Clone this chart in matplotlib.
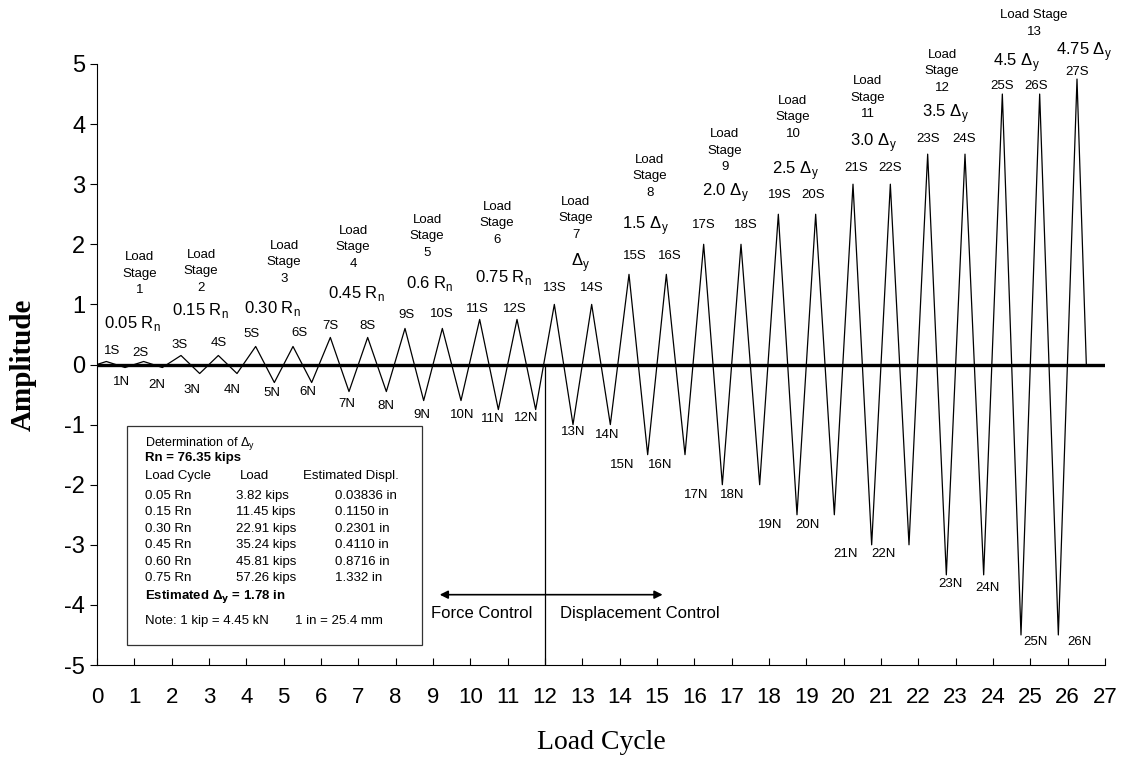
import numpy as np
import matplotlib
matplotlib.use('Agg')
import matplotlib.pyplot as plt
from matplotlib.patches import Rectangle

plt.rcParams['font.family'] = ['Liberation Sans', 'DejaVu Sans']
plt.rcParams['axes.unicode_minus'] = False

# amplitude of each load cycle (S = positive peak, N = negative peak)
cycles = list(range(1, 28))
amps = [0.05, 0.05, 0.15, 0.15, 0.30, 0.30, 0.45, 0.45, 0.6, 0.6, 0.75, 0.75,
        1.0, 1.0, 1.5, 1.5, 2.0, 2.0, 2.5, 2.5, 3.0, 3.0, 3.5, 3.5, 4.5, 4.5, 4.75]

# label offsets (pixels) of the peak labels
s_off = [(6, 10), (-3, 8), (-1, 10), (0, 12), (-4, 12), (6, 13), (0, 11), (0, 11),
         (2, 13), (-1, 14), (-2, 10), (-2, 10), (0, 16), (0, 16), (6, 18), (3, 18),
         (0, 19), (5, 19), (1, 19), (-3, 19), (3, 16), (0, 16), (0, 15), (-1, 15),
         (0, 8), (-4, 8), (0, 7)]
n_off = [(-3, -14), (-6, -17), (-8, -16), (-5, -16), (-2, -10), (-4, -9), (-2, -12), (0, -14),
         (-2, -14), (1, -14), (-6, -9), (-9, -8), (0, -7), (-3, -10), (-25, -10), (-25, -10),
         (-26, -10), (-27, -10), (-27, -10), (-27, -10), (-26, -9), (-25, -9), (4, -9), (4, -13),
         (15, -7), (21, -7)]

# load stage captions
stage_txt = ['Load\nStage\n%d' % i for i in range(1, 13)] + ['Load Stage\n13']
stage_pos = [(1.15, 1.51), (2.79, 1.55), (5.01, 1.70), (6.86, 1.95), (8.84, 2.13),
             (10.72, 2.35), (12.83, 2.43), (14.81, 3.13), (16.82, 3.56), (18.64, 4.11),
             (20.65, 4.44), (22.64, 4.88), (25.10, 5.67)]
level_txt = ['0.05 R$_\\mathregular{n}$', '0.15 R$_\\mathregular{n}$', '0.30 R$_\\mathregular{n}$',
             '0.45 R$_\\mathregular{n}$', '0.6 R$_\\mathregular{n}$', '0.75 R$_\\mathregular{n}$',
             'Δ$_\\mathregular{y}$', '1.5 Δ$_\\mathregular{y}$', '2.0 Δ$_\\mathregular{y}$',
             '2.5 Δ$_\\mathregular{y}$', '3.0 Δ$_\\mathregular{y}$', '3.5 Δ$_\\mathregular{y}$',
             '4.5 Δ$_\\mathregular{y}$', '4.75 Δ$_\\mathregular{y}$']
level_pos = [(0.94, 0.68), (2.76, 0.90), (4.69, 0.93), (6.94, 1.18), (8.92, 1.35),
             (10.88, 1.45), (12.94, 1.70), (14.68, 2.31), (16.82, 2.86), (18.70, 3.23),
             (20.79, 3.69), (22.72, 4.18), (24.64, 5.02), (26.44, 5.21)]

# table in the box
tab_cycle = ['0.05 Rn', '0.15 Rn', '0.30 Rn', '0.45 Rn', '0.60 Rn', '0.75 Rn']
tab_load = ['3.82 kips', '11.45 kips', '22.91 kips', '35.24 kips', '45.81 kips', '57.26 kips']
tab_disp = ['0.03836 in', '0.1150 in', '0.2301 in', '0.4110 in', '0.8716 in', '1.332 in']

# build the zigzag
xs = [0.0]
ys = [0.0]
for c, a in zip(cycles, amps):
    xs.append(c - 0.75)
    ys.append(a)
    if c < 27:
        xs.append(c - 0.25)
        ys.append(-a)
xs.append(26.5)
ys.append(0.0)

fig = plt.figure(figsize=(11.26, 7.62), dpi=100)
ax = fig.add_axes([97 / 1126, 1 - 665 / 762, 1008 / 1126, 601 / 762])

ax.plot([0, 27], [0, 0], color='black', lw=2.4, zorder=2)
ax.plot(xs, ys, color='black', lw=0.9, zorder=3)
ax.plot([12, 12], [0, -5], color='black', lw=0.9)

for i, (c, a) in enumerate(zip(cycles, amps)):
    ax.annotate('%dS' % c, (c - 0.75, a), xytext=s_off[i], textcoords='offset pixels',
                ha='center', va='center', fontsize=9.5)
    if c < 27:
        ax.annotate('%dN' % c, (c - 0.25, -a), xytext=n_off[i], textcoords='offset pixels',
                    ha='center', va='center', fontsize=9.5)

for t, (x, y) in zip(stage_txt, stage_pos):
    ax.text(x, y, t, ha='center', va='center', fontsize=9.5, linespacing=1.5)
for t, (x, y) in zip(level_txt, level_pos):
    ax.text(x, y, t, ha='center', va='center', fontsize=12)

# force / displacement control arrow
ax.annotate('', xy=(9.18, -3.83), xytext=(15.15, -3.83),
            arrowprops=dict(arrowstyle='<|-|>', color='black', lw=1.2, mutation_scale=12,
                            shrinkA=0, shrinkB=0))
ax.text(10.3, -4.15, 'Force Control', ha='center', va='center', fontsize=12)
ax.text(14.53, -4.15, 'Displacement Control', ha='center', va='center', fontsize=12)

# info box
ax.add_patch(Rectangle((0.80, -4.675), 7.91, 3.66, fill=False, edgecolor='#333333', lw=0.9,
                       zorder=4))
bx1, bx2, bx3 = 1.29, 3.72, 6.38
ax.text(bx1, -1.31, 'Determination of Δ$_\\mathregular{y}$', fontsize=9, va='center')
ax.text(bx1, -1.56, 'Rn = 76.35 kips', fontsize=9.5, fontweight='bold', va='center')
ax.text(bx1, -1.86, 'Load Cycle', fontsize=9.5, va='center')
ax.text(3.83, -1.86, 'Load', fontsize=9.5, va='center')
ax.text(5.52, -1.86, 'Estimated Displ.', fontsize=9.5, va='center')
row_y = [-2.18, -2.45, -2.73, -3.01, -3.28, -3.56]
for ry, a, b, d in zip(row_y, tab_cycle, tab_load, tab_disp):
    ax.text(bx1, ry, a, fontsize=9.5, va='center')
    ax.text(bx2, ry, b, fontsize=9.5, va='center')
    ax.text(bx3, ry, d, fontsize=9.5, va='center')
ax.text(bx1, -3.86, 'Estimated Δ$_\\mathbf{y}$ = 1.78 in', fontsize=9.5, fontweight='bold',
        va='center')
ax.text(bx1, -4.26, 'Note: 1 kip = 4.45 kN', fontsize=9.5, va='center')
ax.text(5.30, -4.26, '1 in = 25.4 mm', fontsize=9.5, va='center')

ax.set_xlim(0, 27)
ax.set_ylim(-5, 5)
ax.set_xticks(range(0, 28))
ax.set_yticks(range(-5, 6))
ax.tick_params(axis='x', direction='in', length=5, labelsize=16, pad=16)
ax.tick_params(axis='y', direction='out', length=5, labelsize=17)
ax.spines['top'].set_visible(False)
ax.spines['right'].set_visible(False)
ax.set_xlabel('Load Cycle', family='Liberation Serif', fontsize=20, labelpad=16)
ax.set_ylabel('Amplitude', family='Liberation Serif', fontsize=21, fontweight='bold',
              labelpad=20)

fig.savefig('out.png', dpi=100)
